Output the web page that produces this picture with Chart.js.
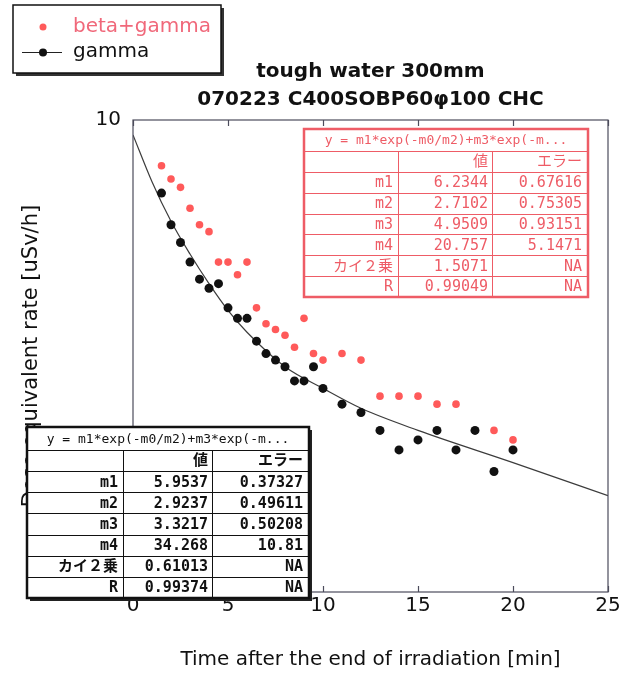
<!DOCTYPE html>
<html>
<head>
<meta charset="utf-8">
<script src="https://cdn.jsdelivr.net/npm/chart.js@4.4.0/dist/chart.umd.min.js"></script>
<style>
  body { margin: 0; background: #fff; }
  canvas { display: block; }
</style>
</head>
<body>
<canvas id="chart" width="636" height="676"></canvas>
<script>
// beta+gamma (red points)
const timeBetaGamma = [1.5, 2, 2.5, 3, 3.5, 4, 4.5, 5, 5.5, 6, 6.5, 7, 7.5, 8, 8.5, 9, 9.5, 10, 11, 12, 13, 14, 15, 16, 17, 19, 20];
const doseBetaGamma = [8.0, 7.5, 7.2, 6.5, 6.0, 5.8, 5.0, 5.0, 4.7, 5.0, 4.0, 3.7, 3.6, 3.5, 3.3, 3.8, 3.2, 3.1, 3.2, 3.1, 2.6, 2.6, 2.6, 2.5, 2.5, 2.2, 2.1];

// gamma (black points)
const timeGamma = [1.5, 2, 2.5, 3, 3.5, 4, 4.5, 5, 5.5, 6, 6.5, 7, 7.5, 8, 8.5, 9, 9.5, 10, 11, 12, 13, 14, 15, 16, 17, 18, 19, 20];
const doseGamma = [7.0, 6.0, 5.5, 5.0, 4.6, 4.4, 4.5, 4.0, 3.8, 3.8, 3.4, 3.2, 3.1, 3.0, 2.8, 2.8, 3.0, 2.7, 2.5, 2.4, 2.2, 2.0, 2.1, 2.2, 2.0, 2.2, 1.8, 2.0];

// fitted curve for gamma
const fitTime = [0, 1, 2, 3, 4, 5, 6, 8, 10, 12, 15, 20, 25];
const fitDose = [9.3, 7.4, 6.1, 5.2, 4.5, 3.95, 3.55, 3.0, 2.7, 2.45, 2.2, 1.88, 1.6];

const xTicks = [0, 5, 10, 15, 20, 25];
const yTickLabels = [1, 10];

// fit result tables
const fitFormula = 'y = m1*exp(-m0/m2)+m3*exp(-m...';
const fitColumns = ['', '値', 'エラー'];
const fitParams = ['m1', 'm2', 'm3', 'm4', 'カイ２乗', 'R'];
const betaGammaValues = ['6.2344', '2.7102', '4.9509', '20.757', '1.5071', '0.99049'];
const betaGammaErrors = ['0.67616', '0.75305', '0.93151', '5.1471', 'NA', 'NA'];
const gammaValues = ['5.9537', '2.9237', '3.3217', '34.268', '0.61013', '0.99374'];
const gammaErrors = ['0.37327', '0.49611', '0.50208', '10.81', 'NA', 'NA'];

const RED = '#ff5a5a';
const TABLE_RED = '#ee5c66';
const SANS = '"DejaVu Sans", sans-serif';
const MONO = '"DejaVu Sans Mono", "Noto Sans CJK JP", monospace';

function toPoints(xs, ys) {
    return xs.map((x, i) => ({ x: x, y: ys[i] }));
}

function drawFitTable(ctx, box, values, errors, lineColor, textColor, shadow) {
    const rowH = (box.bottom - box.top - box.headerH) / 7;
    const w = box.right - box.left;
    const h = box.bottom - box.top;

    if (shadow) {
        ctx.fillStyle = '#222';
        ctx.fillRect(box.left + 3, box.top + 3, w, h);
    }
    ctx.fillStyle = '#fff';
    ctx.fillRect(box.left, box.top, w, h);

    ctx.strokeStyle = lineColor;
    ctx.lineWidth = 1;
    ctx.beginPath();
    for (let i = 0; i < 7; i++) {
        const y = Math.round(box.top + box.headerH + i * rowH) + 0.5;
        ctx.moveTo(box.left, y);
        ctx.lineTo(box.right, y);
    }
    [box.col1, box.col2].forEach(cx => {
        ctx.moveTo(cx + 0.5, box.top + box.headerH);
        ctx.lineTo(cx + 0.5, box.bottom);
    });
    ctx.stroke();
    ctx.lineWidth = 2.5;
    ctx.strokeRect(box.left, box.top, w, h);

    ctx.fillStyle = textColor;
    ctx.textBaseline = 'middle';
    ctx.font = box.headFont;
    ctx.textAlign = 'center';
    ctx.fillText(fitFormula, (box.left + box.right) / 2, box.top + box.headerH / 2 + 1);

    ctx.font = box.font;
    ctx.textAlign = 'right';
    const rows = [fitColumns].concat(fitParams.map((p, i) => [p, values[i], errors[i]]));
    rows.forEach((row, i) => {
        const y = box.top + box.headerH + (i + 0.5) * rowH + 1;
        ctx.fillText(row[0], box.col1 - 5, y);
        ctx.fillText(row[1], box.col2 - 4, y);
        ctx.fillText(row[2], box.right - 6, y);
    });
}

const overlayPlugin = {
    id: 'overlay',
    afterDraw(chart) {
        const ctx = chart.ctx;
        const area = chart.chartArea;
        const xScale = chart.scales.x;
        ctx.save();

        // plot frame + inward ticks
        ctx.strokeStyle = '#4c4c5c';
        ctx.lineWidth = 1.2;
        ctx.strokeRect(area.left, area.top, area.right - area.left, area.bottom - area.top);
        ctx.beginPath();
        xTicks.forEach(v => {
            const px = Math.round(xScale.getPixelForValue(v)) + 0.5;
            ctx.moveTo(px, area.bottom);
            ctx.lineTo(px, area.bottom - 6);
            ctx.moveTo(px, area.top);
            ctx.lineTo(px, area.top + 6);
        });
        ctx.stroke();

        // title
        const cx = (area.left + area.right) / 2;
        ctx.fillStyle = '#111';
        ctx.font = 'bold 20px ' + SANS;
        ctx.textAlign = 'center';
        ctx.textBaseline = 'middle';
        ctx.fillText('tough water 300mm', cx, 72);
        ctx.fillText('070223 C400SOBP60\u03c6100 CHC', cx, 100);

        // legend box
        ctx.fillStyle = '#333';
        ctx.fillRect(16, 8, 208, 68);
        ctx.fillStyle = '#fff';
        ctx.fillRect(13, 5, 208, 68);
        ctx.strokeStyle = '#111';
        ctx.lineWidth = 1.5;
        ctx.strokeRect(13, 5, 208, 68);

        ctx.fillStyle = RED;
        ctx.beginPath();
        ctx.arc(43, 27, 3.5, 0, Math.PI * 2);
        ctx.fill();
        ctx.strokeStyle = '#222';
        ctx.lineWidth = 1;
        ctx.beginPath();
        ctx.moveTo(22, 52.5);
        ctx.lineTo(62, 52.5);
        ctx.stroke();
        ctx.fillStyle = '#111';
        ctx.beginPath();
        ctx.arc(43, 52.5, 4, 0, Math.PI * 2);
        ctx.fill();

        ctx.font = '20px ' + SANS;
        ctx.textAlign = 'left';
        ctx.fillStyle = '#f0687a';
        ctx.fillText('beta+gamma', 73, 27);
        ctx.fillStyle = '#111';
        ctx.fillText('gamma', 73, 52);

        // fit tables
        drawFitTable(ctx, {
            left: 304, top: 129, right: 588, bottom: 297, col1: 398, col2: 492, headerH: 22,
            headFont: '13px ' + MONO, font: '15px ' + MONO
        }, betaGammaValues, betaGammaErrors, TABLE_RED, TABLE_RED, false);

        drawFitTable(ctx, {
            left: 27, top: 427, right: 309, bottom: 598, col1: 123, col2: 212, headerH: 23,
            headFont: '13px ' + MONO, font: 'bold 15px ' + MONO
        }, gammaValues, gammaErrors, '#111', '#111', true);

        ctx.restore();
    }
};

new Chart(document.getElementById('chart'), {
    type: 'scatter',
    data: {
        datasets: [
            {
                label: 'beta+gamma',
                data: toPoints(timeBetaGamma, doseBetaGamma),
                backgroundColor: RED,
                borderWidth: 0,
                pointRadius: 3.8,
                showLine: false
            },
            {
                label: 'gamma',
                data: toPoints(timeGamma, doseGamma),
                backgroundColor: '#111',
                borderWidth: 0,
                pointRadius: 4.5,
                showLine: false
            },
            {
                label: 'fit',
                data: toPoints(fitTime, fitDose),
                borderColor: '#3c3c3c',
                borderWidth: 1.2,
                pointRadius: 0,
                showLine: true,
                cubicInterpolationMode: 'monotone'
            }
        ]
    },
    options: {
        responsive: false,
        animation: false,
        layout: { padding: { left: 19, right: 28, top: 120, bottom: 0 } },
        plugins: {
            legend: { display: false },
            title: { display: false },
            tooltip: { enabled: false }
        },
        scales: {
            x: {
                type: 'linear',
                min: 0,
                max: 25,
                afterBuildTicks: scale => { scale.ticks = xTicks.map(v => ({ value: v })); },
                afterFit: scale => { scale.height = 84; },
                grid: { display: false, drawTicks: false },
                border: { display: false },
                ticks: { color: '#111', font: { family: SANS, size: 20 }, padding: 2, maxRotation: 0 },
                title: {
                    display: true,
                    text: 'Time after the end of irradiation [min]',
                    color: '#111',
                    font: { family: SANS, size: 20 },
                    padding: { top: 0, bottom: 4 }
                }
            },
            y: {
                type: 'logarithmic',
                min: 1,
                max: 10,
                afterFit: scale => { scale.width = 114; },
                grid: { display: false, drawTicks: false },
                border: { display: false },
                ticks: {
                    autoSkip: false,
                    color: '#111',
                    font: { family: SANS, size: 20 },
                    padding: 12,
                    callback: v => (yTickLabels.includes(v) ? String(v) : '')
                },
                title: {
                    display: true,
                    text: 'Dose equivalent rate [uSv/h]',
                    color: '#111',
                    font: { family: SANS, size: 21 },
                    padding: { top: 0, bottom: 6 }
                }
            }
        }
    },
    plugins: [overlayPlugin]
});
</script>
</body>
</html>
